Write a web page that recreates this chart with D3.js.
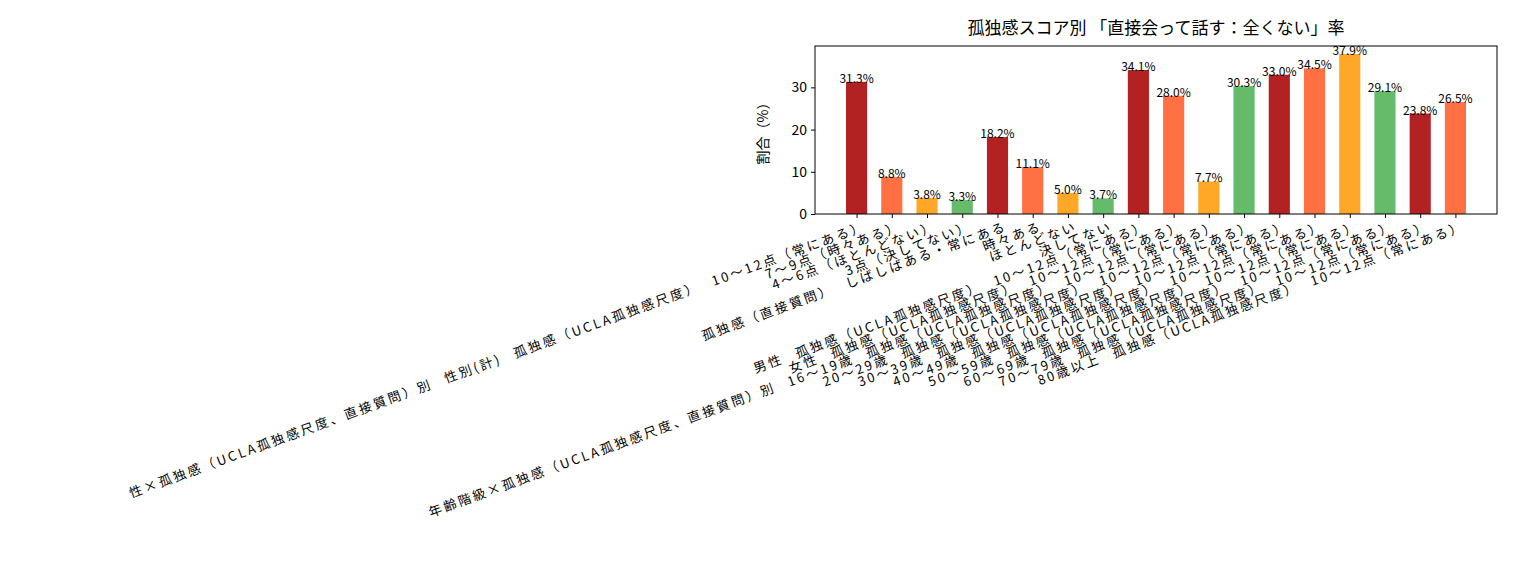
<!DOCTYPE html>
<html><head><meta charset="utf-8">
<script src="https://cdn.jsdelivr.net/npm/d3@7"></script>
<style>body{margin:0;background:#fff}text{font-family:"Noto Sans CJK JP",sans-serif}</style>
</head><body><svg id="c" width="1513" height="584"></svg>
<script>
// chart data
const labels = [
  "性×孤独感（UCLA孤独感尺度、直接質問）別 性別(計) 孤独感（UCLA孤独感尺度） 10～12点（常にある）",
  "7～9点（時々ある）",
  "4～6点（ほとんどない）",
  "3点（決してない）",
  "孤独感（直接質問） しばしばある・常にある",
  "時々ある",
  "ほとんどない",
  "決してない",
  "男性 孤独感（UCLA孤独感尺度） 10～12点（常にある）",
  "女性 孤独感（UCLA孤独感尺度） 10～12点（常にある）",
  "年齢階級×孤独感（UCLA孤独感尺度、直接質問）別 16～19歳 孤独感（UCLA孤独感尺度） 10～12点（常にある）",
  "20～29歳 孤独感（UCLA孤独感尺度） 10～12点（常にある）",
  "30～39歳 孤独感（UCLA孤独感尺度） 10～12点（常にある）",
  "40～49歳 孤独感（UCLA孤独感尺度） 10～12点（常にある）",
  "50～59歳 孤独感（UCLA孤独感尺度） 10～12点（常にある）",
  "60～69歳 孤独感（UCLA孤独感尺度） 10～12点（常にある）",
  "70～79歳 孤独感（UCLA孤独感尺度） 10～12点（常にある）",
  "80歳以上 孤独感（UCLA孤独感尺度） 10～12点（常にある）"
];
const values = [31.3, 8.8, 3.8, 3.3, 18.2, 11.1, 5.0, 3.7, 34.1, 28.0, 7.7, 30.3, 33.0, 34.5, 37.9, 29.1, 23.8, 26.5];
const palette = ["#b22222", "#ff7043", "#ffa726", "#66bb6a"];
const yTicks = [0, 10, 20, 30];

const svg = d3.select("#c");
const L = 815, R = 1497, T = 46, B = 214;
const bw = 0.6;

const x = d3.scaleLinear().domain([-0.3 - 0.88, 17.3 + 0.88]).range([L, R]);
const y = d3.scaleLinear().domain([0, 39.8]).range([B, T]);

// bars
svg.append("g").selectAll("rect")
  .data(values)
  .enter().append("rect")
  .attr("x", (d, i) => x(i - bw / 2))
  .attr("width", x(bw) - x(0))
  .attr("y", d => y(d))
  .attr("height", d => B - y(d))
  .attr("fill", (d, i) => palette[i % 4]);

// value labels
svg.append("g").selectAll("text")
  .data(values)
  .enter().append("text")
  .attr("x", (d, i) => x(i))
  .attr("y", d => y(d) + 1)
  .attr("text-anchor", "middle")
  .attr("font-size", 12)
  .text(d => d.toFixed(1) + "%");

// axes
svg.append("g").attr("transform", `translate(${L},0)`)
  .call(d3.axisLeft(y).tickValues(yTicks).tickSize(4).tickPadding(4))
  .call(g => g.select(".domain").remove())
  .selectAll("text").attr("font-size", 14).attr("fill", "#000");

const xa = svg.append("g").attr("transform", `translate(0,${B})`)
  .call(d3.axisBottom(x).tickValues(d3.range(values.length)).tickFormat((d, i) => labels[i]).tickSize(4))
  .call(g => g.select(".domain").remove());
xa.selectAll("text")
  .attr("font-size", 13).attr("fill", "#000")
  .attr("letter-spacing", "2.5px")
  .attr("word-spacing", "8px")
  .attr("text-anchor", "end")
  .attr("dy", "0.3em")
  .attr("transform", "translate(6,6) rotate(-20)");

svg.append("rect").attr("x", L).attr("y", T).attr("width", R - L).attr("height", B - T)
  .attr("fill", "none").attr("stroke", "#000").attr("stroke-width", 1);

// title and axis label
svg.append("text").attr("x", (L + R) / 2).attr("y", 34).attr("text-anchor", "middle")
  .attr("font-size", 17).text("孤独感スコア別 「直接会って話す：全くない」率");
svg.append("text").attr("transform", `translate(768,${(T + B) / 2}) rotate(-90)`)
  .attr("text-anchor", "middle").attr("font-size", 14).text("割合（%）");
</script></body></html>
